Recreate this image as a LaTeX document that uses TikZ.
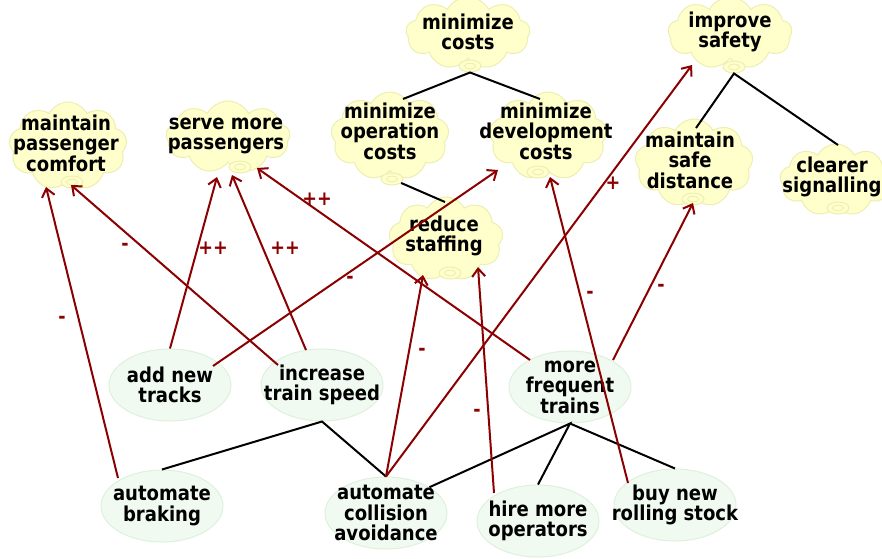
\documentclass[tikz,border=0pt]{standalone}
\usepackage{fontspec}
\setmainfont{DejaVu Sans}[FakeStretch=0.88]
\usetikzlibrary{shapes.symbols,shapes.geometric,arrows.meta,calc}
\definecolor{cloudfill}{RGB}{255,255,204}
\definecolor{cloudline}{RGB}{238,238,176}
\definecolor{taskfill}{RGB}{240,250,240}
\definecolor{taskline}{RGB}{222,240,222}
\definecolor{contrib}{RGB}{139,0,0}
\tikzset{
  lbl/.style={font=\bfseries\fontsize{20.5}{20.5}\selectfont, align=center, inner sep=0pt},
  goal/.style={cloud, cloud puffs=9, cloud puff arc=125, cloud ignores aspect,
    fill=cloudfill, draw=cloudline, line width=1pt, inner sep=0pt,
    minimum width=124pt, minimum height=72pt},
  goalthree/.style={goal, minimum width=118pt, minimum height=88pt},
  tail/.style={ellipse, fill=cloudfill, draw=cloudline, line width=1pt,
    minimum width=22pt, minimum height=12pt, inner sep=0pt},
  tailring/.style={ellipse, draw=cloudline, line width=0.9pt,
    minimum width=11pt, minimum height=6pt, inner sep=0pt},
  task/.style={ellipse, fill=taskfill, draw=taskline, line width=1pt, inner sep=0pt,
    minimum width=122pt, minimum height=72pt},
  refine/.style={draw=black, line width=2pt},
  contribution/.style={draw=contrib, line width=2pt,
    -{Straight Barb[length=8pt,width=13pt,line width=2pt]}},
  sign/.style={text=contrib, font=\bfseries\fontsize{20}{20}\selectfont}
}
% a small curled puff under a cloud
\newcommand{\goaltail}[2]{%
  \node[tail] (#1) at (#2) {};
  \node[tailring] at (#1) {};}
\begin{document}
\begin{tikzpicture}[x=1pt,y=-1pt]
\useasboundingbox (0,0) rectangle (882,558);

% soft goals (clouds)
\node[goal]      (mc)  at (468,33)  {};
\node[goal]      (is)  at (730,33)  {};
\node[goalthree] (mpc) at (68,146)  {};
\node[goal]      (smp) at (228,137) {};
\node[goalthree] (moc) at (390,136) {};
\node[goalthree] (mdc) at (548,136) {};
\node[goalthree, minimum width=114pt, minimum height=84pt] (rs) at (446,239) {};
\node[goalthree] (msd) at (694,163) {};
\node[goal, minimum width=112pt] (cs) at (836,180) {};

\goaltail{mc-tail}{470,66}
\goaltail{is-tail}{734,67}
\goaltail{mpc-tail}{72,182}
\goaltail{smp-tail}{240,167}
\goaltail{moc-tail}{392,179}
\goaltail{mdc-tail}{538,172}
\goaltail{rs-tail}{450,273}
\goaltail{msd-tail}{693,199}
\goaltail{cs-tail}{838,208}

\node[lbl] at ($(mc)+(0,-1)$)  {minimize\\costs};
\node[lbl] at ($(is)+(0,-1)$)  {improve\\safety};
\node[lbl] at ($(mpc)+(-2,-3)$) {maintain\\passenger\\comfort};
\node[lbl] at ($(smp)+(-2,-1)$) {serve more\\passengers};
\node[lbl] at ($(moc)+(0,-5)$) {minimize\\operation\\costs};
\node[lbl] at ($(mdc)+(-2,-5)$) {minimize\\development\\costs};
\node[lbl] at ($(rs)+(-2,-3)$)  {reduce\\staffing};
\node[lbl] at ($(msd)+(-4,-3)$) {maintain\\safe\\distance};
\node[lbl] at ($(cs)+(-4,-3)$)  {clearer\\signalling};

% tasks (ellipses)
\node[task] (ant)  at (170,385) {};
\node[task] (its)  at (322,385) {};
\node[task] (mft)  at (570,387) {};
\node[task] (ab)   at (162,506) {};
\node[task] (cav)  at (386,513) {};
\node[task] (hmo)  at (538,521) {};
\node[task] (bnrs) at (675,505) {};

\node[lbl] at (ant)  {add new\\tracks};
\node[lbl] at (its)  {increase\\train speed};
\node[lbl] at (mft)  {more\\frequent\\trains};
\node[lbl] at (ab)   {automate\\braking};
\node[lbl] at (cav)  {automate\\collision\\avoidance};
\node[lbl] at (hmo)  {hire more\\operators};
\node[lbl] at (bnrs) {buy new\\rolling stock};

% decompositions
\draw[refine] ($(moc)+(13,-37)$) -- (mc-tail.south) -- ($(mdc)+(-8,-37)$);
\draw[refine] ($(msd)+(2,-35)$) -- (is-tail.south) -- ($(cs)+(2,-35)$);
\draw[refine] (moc-tail) -- ($(rs)+(-1,-37)$);
\draw[refine] (ab.north) -- (its.south) -- (cav.north);
\draw[refine] (cav.north east) -- (mft.south) -- (hmo.north);
\draw[refine] (mft.south) -- (bnrs.north);

% contributions
\draw[contribution] ($(ab)+(-44,-28)$)   -- ($(mpc)+(-22,41)$);
\draw[contribution] ($(its)+(-44,-20)$)  -- ($(mpc)+(3,39)$);
\draw[contribution] (ant.north)          -- ($(smp)+(-11,40)$);
\draw[contribution] ($(its)+(-16,-35)$)  -- ($(smp)+(4,38)$);
\draw[contribution] ($(mft)+(-40,-27)$)  -- ($(smp)+(29,31)$);
\draw[contribution] ($(ant)+(43,-19)$)   -- ($(mdc)+(-50,34)$);
\draw[contribution] (cav.north)          -- ($(rs)+(-23,36)$);
\draw[contribution] (cav.north)          -- ($(is)+(-38,32)$);
\draw[contribution] ($(hmo)+(-44,-28)$)  -- ($(rs)+(32,28)$);
\draw[contribution] ($(bnrs)+(-47,-22)$) -- ($(mdc)+(2,41)$);
\draw[contribution] ($(mft)+(43,-27)$)   -- ($(msd)+(-1,40)$);

% contribution signs
\node[sign] at (62,320) {-};
\node[sign] at (125,247) {-};
\node[sign] at (213,248) {++};
\node[sign] at (285,248) {++};
\node[sign] at (317,199) {++};
\node[sign] at (350,280) {-};
\node[sign] at (422,352) {-};
\node[sign] at (613,183) {+};
\node[sign] at (477,413) {-};
\node[sign] at (590,295) {-};
\node[sign] at (661,288) {-};
\end{tikzpicture}
\end{document}
